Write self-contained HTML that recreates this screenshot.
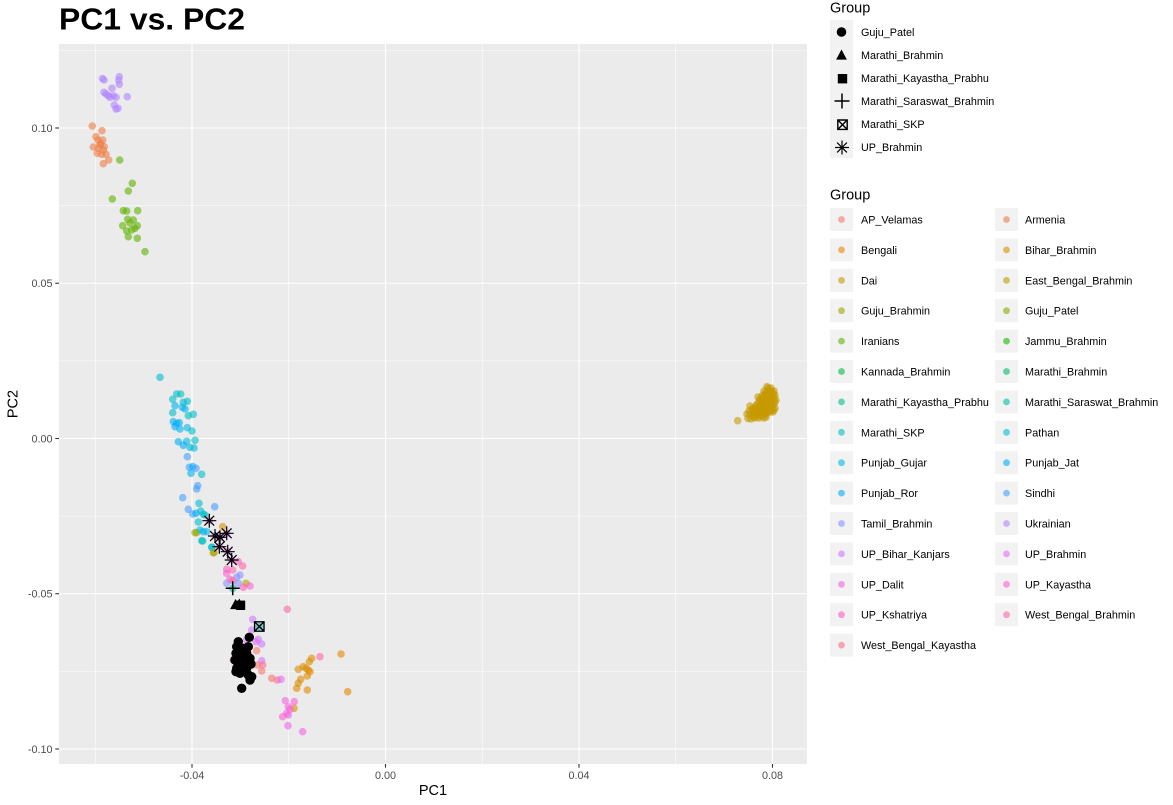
<!DOCTYPE html>
<html>
<head>
<meta charset="utf-8">
<style>
html,body{margin:0;padding:0;background:#fff;}
svg{display:block;}
text{font-family:"Liberation Sans",Arial,sans-serif;}
</style>
</head>
<body>
<svg id="s" xmlns="http://www.w3.org/2000/svg" width="1173" height="805" viewBox="0 0 1173 805">
<rect x="0" y="0" width="1173" height="805" fill="#ffffff"/>
<text x="59" y="29.5" font-size="31" font-weight="bold" fill="#000" textLength="186" lengthAdjust="spacingAndGlyphs">PC1 vs. PC2</text>
<rect x="59" y="44" width="748" height="720" fill="#EBEBEB"/>
<g stroke="#ffffff" stroke-width="0.55">
<line x1="95.25" y1="44" x2="95.25" y2="764"/>
<line x1="288.75" y1="44" x2="288.75" y2="764"/>
<line x1="482.25" y1="44" x2="482.25" y2="764"/>
<line x1="675.75" y1="44" x2="675.75" y2="764"/>
<line x1="59" y1="50.4" x2="807" y2="50.4"/>
<line x1="59" y1="205.6" x2="807" y2="205.6"/>
<line x1="59" y1="360.9" x2="807" y2="360.9"/>
<line x1="59" y1="516.1" x2="807" y2="516.1"/>
<line x1="59" y1="671.4" x2="807" y2="671.4"/>
</g>
<g stroke="#ffffff" stroke-width="1.1">
<line x1="192" y1="44" x2="192" y2="764"/>
<line x1="385.5" y1="44" x2="385.5" y2="764"/>
<line x1="579" y1="44" x2="579" y2="764"/>
<line x1="772.5" y1="44" x2="772.5" y2="764"/>
<line x1="59" y1="128" x2="807" y2="128"/>
<line x1="59" y1="283.25" x2="807" y2="283.25"/>
<line x1="59" y1="438.5" x2="807" y2="438.5"/>
<line x1="59" y1="593.75" x2="807" y2="593.75"/>
<line x1="59" y1="749" x2="807" y2="749"/>
</g>
<g id="pts"></g>
<g id="shp"></g>
<g stroke="#333333" stroke-width="1.1">
<line x1="55.3" y1="128" x2="59" y2="128"/>
<line x1="55.3" y1="283.25" x2="59" y2="283.25"/>
<line x1="55.3" y1="438.5" x2="59" y2="438.5"/>
<line x1="55.3" y1="593.75" x2="59" y2="593.75"/>
<line x1="55.3" y1="749" x2="59" y2="749"/>
<line x1="192" y1="764" x2="192" y2="767.7"/>
<line x1="385.5" y1="764" x2="385.5" y2="767.7"/>
<line x1="579" y1="764" x2="579" y2="767.7"/>
<line x1="772.5" y1="764" x2="772.5" y2="767.7"/>
</g>
<g font-size="10.8" fill="#4D4D4D" text-anchor="end">
<text x="52.5" y="132">0.10</text>
<text x="52.5" y="287.2">0.05</text>
<text x="52.5" y="442.5">0.00</text>
<text x="52.5" y="597.7">-0.05</text>
<text x="52.5" y="753">-0.10</text>
</g>
<g font-size="10.8" fill="#4D4D4D" text-anchor="middle">
<text x="192" y="779">-0.04</text>
<text x="385.5" y="779">0.00</text>
<text x="579" y="779">0.04</text>
<text x="772.5" y="779">0.08</text>
</g>
<text x="433" y="795" font-size="14.5" fill="#000" text-anchor="middle">PC1</text>
<text x="0" y="0" font-size="14.5" fill="#000" text-anchor="middle" transform="translate(17.5,404) rotate(-90)">PC2</text>

<text x="830" y="12.5" font-size="14.5" fill="#000">Group</text>
<rect x="830" y="20" width="23" height="138" fill="#F2F2F2"/>
<g font-size="10.8" fill="#000">
<text x="861" y="35.8">Guju_Patel</text>
<text x="861" y="58.8">Marathi_Brahmin</text>
<text x="861" y="81.8">Marathi_Kayastha_Prabhu</text>
<text x="861" y="104.8">Marathi_Saraswat_Brahmin</text>
<text x="861" y="127.8">Marathi_SKP</text>
<text x="861" y="150.8">UP_Brahmin</text>
</g>
<g id="lshp"></g>

<text x="830" y="199.5" font-size="14.5" fill="#000">Group</text>
<g id="lcol"></g>
<g font-size="10.8" fill="#000">
<text x="861" y="223.5">AP_Velamas</text>
<text x="1025" y="223.5">Armenia</text>
<text x="861" y="253.9">Bengali</text>
<text x="1025" y="253.9">Bihar_Brahmin</text>
<text x="861" y="284.3">Dai</text>
<text x="1025" y="284.3">East_Bengal_Brahmin</text>
<text x="861" y="314.7">Guju_Brahmin</text>
<text x="1025" y="314.7">Guju_Patel</text>
<text x="861" y="345.1">Iranians</text>
<text x="1025" y="345.1">Jammu_Brahmin</text>
<text x="861" y="375.5">Kannada_Brahmin</text>
<text x="1025" y="375.5">Marathi_Brahmin</text>
<text x="861" y="405.9">Marathi_Kayastha_Prabhu</text>
<text x="1025" y="405.9">Marathi_Saraswat_Brahmin</text>
<text x="861" y="436.3">Marathi_SKP</text>
<text x="1025" y="436.3">Pathan</text>
<text x="861" y="466.7">Punjab_Gujar</text>
<text x="1025" y="466.7">Punjab_Jat</text>
<text x="861" y="497.1">Punjab_Ror</text>
<text x="1025" y="497.1">Sindhi</text>
<text x="861" y="527.5">Tamil_Brahmin</text>
<text x="1025" y="527.5">Ukrainian</text>
<text x="861" y="557.9">UP_Bihar_Kanjars</text>
<text x="1025" y="557.9">UP_Brahmin</text>
<text x="861" y="588.3">UP_Dalit</text>
<text x="1025" y="588.3">UP_Kayastha</text>
<text x="861" y="618.7">UP_Kshatriya</text>
<text x="1025" y="618.7">West_Bengal_Brahmin</text>
<text x="861" y="649.1">West_Bengal_Kayastha</text>
</g>
</svg>
<script>
(function(){
var NS="http://www.w3.org/2000/svg";
function hcl(h,c,l){
  var hr=h*Math.PI/180, U=c*Math.cos(hr), V=c*Math.sin(hr);
  var Xn=95.047,Yn=100,Zn=108.883, den=Xn+15*Yn+3*Zn, un=4*Xn/den, vn=9*Yn/den;
  var Y=l>7.999592?Yn*Math.pow((l+16)/116,3):Yn*l/903.3;
  var u=U/(13*l)+un, v=V/(13*l)+vn;
  var X=9*Y*u/(4*v), Z=(9*Y/v-X-15*Y)/3;
  var x=X/100,y=Y/100,z=Z/100;
  var r=3.240479*x-1.53715*y-0.498535*z, g=-0.969256*x+1.875992*y+0.041556*z, b=0.055648*x-0.204043*y+1.057311*z;
  function gm(t){t=t<=0.0031308?12.92*t:1.055*Math.pow(t,1/2.4)-0.055;t=Math.max(0,Math.min(1,t));return Math.round(t*255);}
  return "rgb("+gm(r)+","+gm(g)+","+gm(b)+")";
}
var N=29, cols=[];
for(var i=0;i<N;i++){cols.push(hcl(15+360*i/N,100,65));}
function el(tag,attrs,parent){var e=document.createElementNS(NS,tag);for(var k in attrs)e.setAttribute(k,attrs[k]);parent.appendChild(e);return e;}
var P=[
[104,80,21],[102.5,78.5,21],[119.3,76.7,21],[118.7,80,21],[112,88.3,21],[119.3,84.3,21],[104,92.3,21],[108.3,95.7,21],[113.3,95.7,21],[116,97.3,21],[127.3,96.7,21],[110,97.3,21],[114.3,105,21],[116,109,21],[118,108.3,21],[106,94,21],
[92.3,126,1],[102,130.7,1],[96,136.7,1],[102.7,140,1],[100.7,143.3,1],[104.3,146.7,1],[93.3,147,1],[98.3,148.3,1],[97.3,153.3,1],[101.7,154.3,1],[106,154.3,1],[108.7,160,1],[103.3,163.7,1],[100,145,1],[103.3,150,1],[98,140,1],
[119.7,160,8],[132.3,183.3,8],[128.3,191,8],[112.3,199,8],[123.3,210.7,8],[126.7,211,8],[137.7,210.7,8],[127.7,219.3,8],[133.3,220,8],[122.7,225.7,8],[137.3,225.7,8],[126.7,231,8],[131.7,230,8],[135,228.3,8],[128.3,236.7,8],[137.3,238.3,8],[145,251.7,8],[130,223,8],
[160,377.3,15],[176.7,394,15],[180.7,394,14],[172.7,399.3,15],[183.3,402.3,16],[187.3,401.3,15],[175,405.7,17],[182.3,407.3,16],[185,409,17],[172.7,412.7,15],[188.3,415.7,14],[193.3,414.3,15],[173.3,421.7,17],[176.7,423.3,18],[179.3,422.7,17],[175,426.7,18],[180,429,17],[187.3,427.7,16],[192,431,15],[178.3,441.7,17],[186.7,441.3,16],[183.3,445.3,18],[190,447.3,15],[194,448,16],[195,440.3,15],[187.3,456.7,19],[189.3,467.3,19],[192.7,466.7,18],[191,473.3,17],[196,468.3,19],[201.7,474.3,15],[197.7,485.7,19],[196.7,489,19],[182.7,497.7,19],[188.3,509.3,19],[199,503.3,15],[214.7,506.7,19],[192.7,514,19],[196,513.3,18],[200.7,511,15],[203.3,514.3,16],[198.3,522,15],[196.7,532.7,6],[200,530,16],[206.7,531.7,16],[202.7,541,15],[212,547.3,15],[213.3,552.7,6],[222.7,526.7,3],[205,515,14],[195,532.7,6],[203.3,531.7,17],[201.7,540.7,14],[211.7,547.3,15],[214,552.7,5],
[209.3,520.7,23],[215,536,23],[220,537.3,23],[226.7,533.3,23],[219.3,546.7,23],[227.7,551.7,23],[231.7,560,23],
[238.3,561.7,26],[242.7,566,27],[226.7,569.3,26],[226.7,573.3,25],[232.7,570,27],[240,575,20],[236.7,577.3,20],[230,579.3,26],[232.7,580.7,27],[226.7,583.3,20],[238.3,583.3,20],[246,583.3,5],[250,586,25],[243.3,587.3,26],[232.7,588.3,13],[287.3,609.3,27],[252.7,619.3,22],[259.3,626.5,14],[251.7,630,22],
[258.3,639.3,22],[261.7,644,22],[256,641.7,23],[246.7,640,22],[261.7,660.7,22],[256.7,650.7,0],[233.3,660,28],[257.3,665,0],[262.7,665,28],[261.7,671,0],[271.7,678.3,0],[277.3,680,28],[281,679.3,23],[320,656.7,27],
[341,654,2],[311.7,658.3,2],[309.3,661.7,3],[303.3,666.7,2],[306,668.3,3],[308.3,670,2],[310,671.7,2],[298.3,669.3,3],[307.3,676,2],[300.7,679.3,2],[298.3,683.3,3],[296.7,688.3,2],[307.3,690,2],[347.7,691.7,2],[294,708.3,3],
[285.3,700.7,24],[294.3,701.7,25],[288.3,706.7,24],[290,709.3,25],[286.7,713.3,24],[288.3,715,24],[282.7,716.7,25],[288,725.7,24],[302.7,731.7,24]
];
var D=[[737.7,420.7],[747,414],[748,418.5],[751,419],[755,418],[759,418],[764,418],[767,386.7],[774,391],[775,408],[772,396],[770,393],[768,396],[765,399],[762,402],[760,405],[758,408],[756,411],[754,413],[752,410],[757,414],[761,412],[765,410],[768,407],[771,404],[773,400],[770,400],[766,404],[763,407],[760,410],[762,396],[766,392],[769,390],[759,402],[756,406],[753,408],[774,404],[772,410],[767,413],[763,414],[771,388],[775,395],[776,400],[760,415],[758,397],[764,391],[770,409],[773,412],[750,406],[766,417],
[761,400],[764,395],[767,401],[769,405],[771,398],[772,392],[763,404],[759,412],[762,408],[765,406],[768,410],[770,412],[757,404],[755,409],[753,415],[758,416],[762,416],[766,414],[769,402],[772,406],[774,397],[767,394],[764,398],[761,406],[757,410],[773,394],[768,399],[765,412],[763,411],[760,399],[775,402],[774,410],[771,391],[768,388],[754,417],[750,414],[749,411]];
for(var d=0;d<D.length;d++)P.push([D[d][0],D[d][1],4]);
var g=document.getElementById("pts");
for(var p=0;p<P.length;p++){el("circle",{cx:P[p][0],cy:P[p][1],r:3.8,fill:cols[P[p][2]],"fill-opacity":0.6},g);}
var s=document.getElementById("shp");
var BC=[[249.3,637.3],[238.3,641.7],[236.7,646.7],[238.3,650],[243.3,648.3],[248.3,646.7],[236,653.3],[240,655],[246.7,653.3],[250,658.3],[241.7,658.3],[235,660],[238.3,665],[245,663.3],[241.7,666.7],[236,671.7],[240,673.3],[248.3,675],[251.7,676.7],[250,680],[241.7,688.3],[236.7,668.3],[246.7,668.3],[244,670],[239,661],[251,664]];
for(var b=0;b<BC.length;b++)el("circle",{cx:BC[b][0],cy:BC[b][1],r:4.7,fill:"#000"},s);
function tri(cx,cy,par){el("polygon",{points:(cx)+","+(cy-5.5)+" "+(cx-5.4)+","+(cy+4.6)+" "+(cx+5.4)+","+(cy+4.6),fill:"#000"},par);}
function sq(cx,cy,par){el("rect",{x:cx-4.7,y:cy-4.7,width:9.4,height:9.4,fill:"#000"},par);}
function plus(cx,cy,par,a){a=a||7;el("path",{d:"M"+(cx-a)+","+cy+"H"+(cx+a)+"M"+cx+","+(cy-a)+"V"+(cy+a),stroke:"#000","stroke-width":1.5,fill:"none"},par);}
function skp(cx,cy,par){el("path",{d:"M"+(cx-4.7)+","+(cy-4.7)+"h9.4v9.4h-9.4zM"+(cx-4.7)+","+(cy-4.7)+"l9.4,9.4M"+(cx+4.7)+","+(cy-4.7)+"l-9.4,9.4",stroke:"#000","stroke-width":1.4,fill:"none"},par);}
function ast(cx,cy,par){var a=7,q=4.9;el("path",{d:"M"+(cx-a)+","+cy+"H"+(cx+a)+"M"+cx+","+(cy-a)+"V"+(cy+a)+"M"+(cx-q)+","+(cy-q)+"L"+(cx+q)+","+(cy+q)+"M"+(cx+q)+","+(cy-q)+"L"+(cx-q)+","+(cy+q),stroke:"#000","stroke-width":1.2,fill:"none"},par);}
tri(235.5,604.5,s);tri(239.3,604,s);sq(240.5,605.3,s);
plus(232.7,588.3,s);
skp(259.3,626.5,s);
var AS=[[209.3,520.7],[215,536],[220,537.3],[226.7,533.3],[219.3,546.7],[227.7,551.7],[231.7,560]];
for(var a=0;a<AS.length;a++)ast(AS[a][0],AS[a][1],s);
var ls=document.getElementById("lshp");
el("circle",{cx:841.5,cy:32,r:4.8,fill:"#000"},ls);
tri(841.5,55,ls);
sq(842.5,78.7,ls);
plus(842,101,ls,7.5);
skp(842.5,124.7,ls);
ast(842,147.5,ls);
var lc=document.getElementById("lcol");
for(var k=0;k<N;k++){
  var row=Math.floor(k/2), col=k%2;
  var cy=219.5+row*30.4, x0=col?995:830;
  el("rect",{x:x0,y:cy-11.5,width:23,height:23,fill:"#F2F2F2"},lc);
  el("circle",{cx:x0+11.5,cy:cy,r:3.4,fill:cols[k],"fill-opacity":0.6},lc);
}
})();
</script>
</body>
</html>
